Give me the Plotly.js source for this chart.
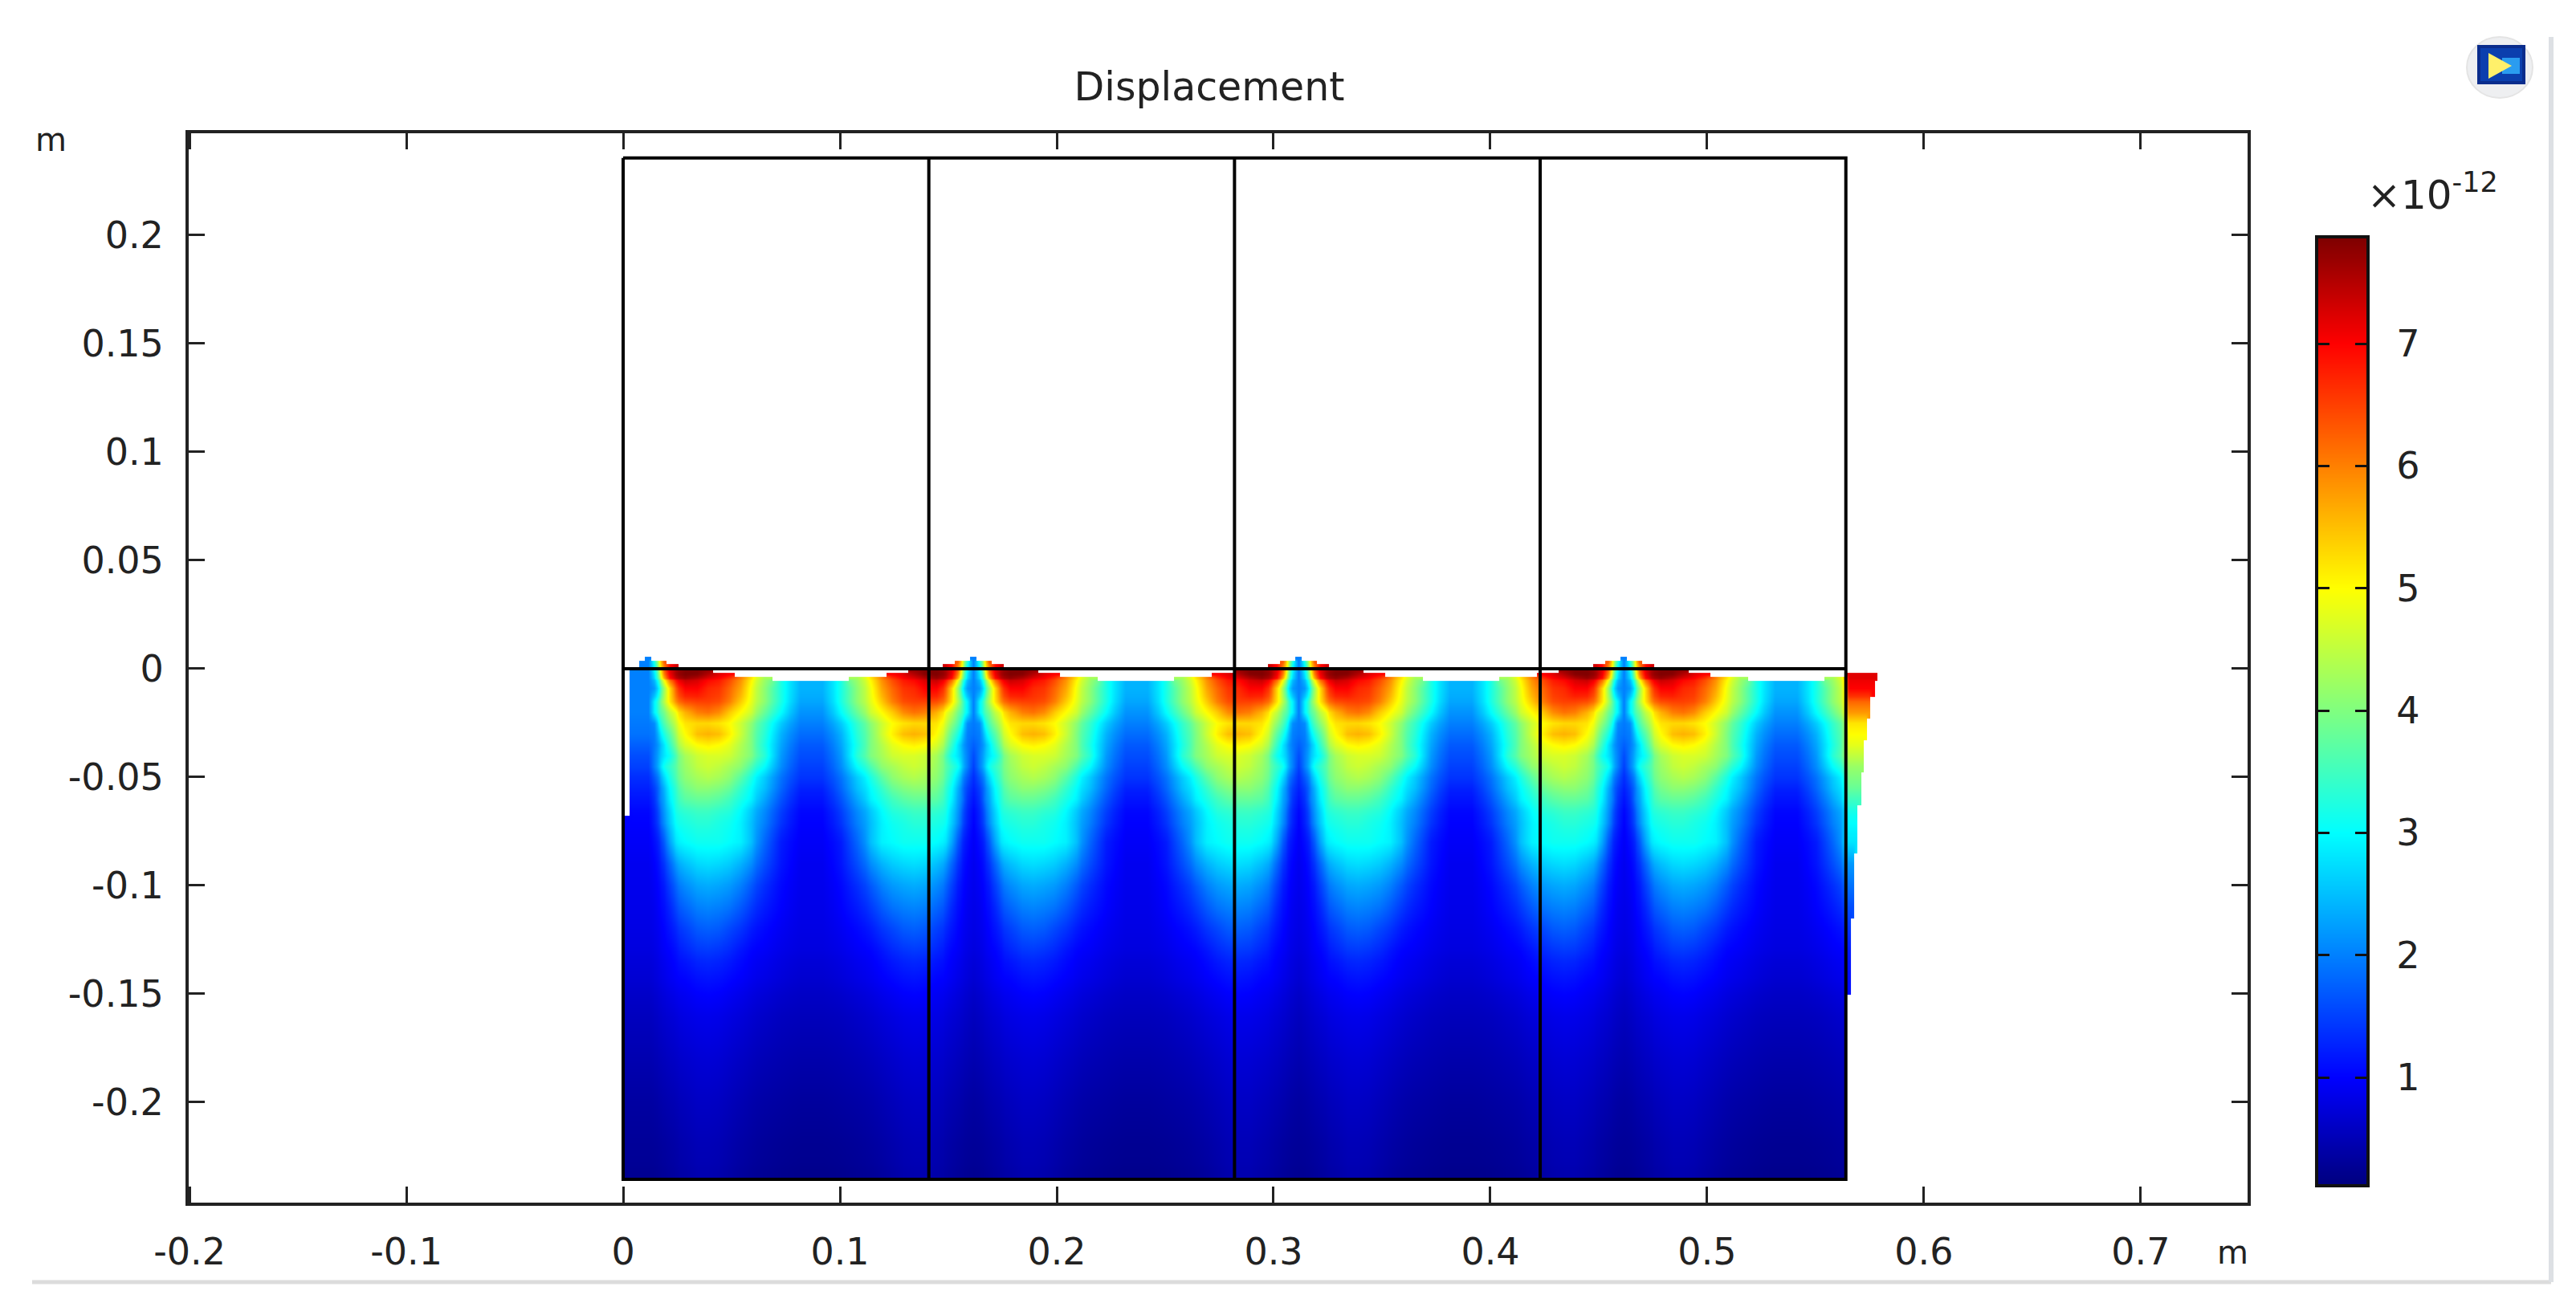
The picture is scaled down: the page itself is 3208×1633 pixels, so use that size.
<!DOCTYPE html>
<html><head><meta charset="utf-8">
<script src="https://cdn.plot.ly/plotly-3.0.1.min.js"></script>
<style>html,body{margin:0;padding:0;background:#fff}</style></head>
<body><div id="chart" style="width:3208px;height:1633px"></div>
<script>
// Displacement field values (×1e-12 m).
// One symmetric half-cell around each surface "spike": columns are distance from the spike.
const halfCellWidths = [.0015,.004,.006,.0086,.0115,.0142,.02,.025,.03,.035,.04,.045,.05,.0575,.065,.075];
const spikeCentres = [.0115,.1615,.3115,.4615,.6115];
const rowEdges = [.0055,.004,.0025,0,-.0016,-.0035,-.0053,-.0125,-.0175,-.0225,-.0275,-.0325,-.0375,-.0425,-.0475,-.0525,-.0575,-.0625,-.0675,-.075,-.085,-.095,-.105,-.115,-.125,-.135,-.15,-.17,-.19,-.21,-.228,-.2356];
const halfRows = [
[2.0],
[2.0,3.2,4.8,6.3],
[2.0,3.0,4.7,6.0,6.9,7.3],
[2.0,2.9,4.4,6.2,7.2,7.6,7.85,7.85,7.7],
[2.0,2.8,4.2,6.0,7.1,7.6,7.85,7.8,7.5,7.2,7.0],
[2.0,2.7,4.0,5.6,6.9,7.4,7.7,7.5,7.2,7.0,6.6,6.0,5.2,4.3],
[2.0,2.2,3.0,4.2,5.3,6.3,7.0,7.0,6.7,6.6,6.2,5.7,4.9,4.1,3.2,2.4],
[2.0,2.9,3.6,4.4,5.2,5.9,6.4,6.5,6.5,6.4,6.0,5.4,4.8,4.1,3.2,2.3],
[2.0,2.9,3.5,3.9,4.5,4.9,5.6,6.0,6.1,5.9,5.4,5.0,4.6,3.8,3.0,2.15],
[1.95,2.1,3.0,3.6,4.1,4.6,5.2,5.3,5.3,5.2,5.0,4.6,4.1,3.4,2.6,2.0],
[1.9,2.0,2.6,3.2,3.7,4.3,5.0,5.5,5.6,5.5,5.1,4.6,4.0,3.3,2.4,1.85],
[1.75,1.95,2.3,2.8,3.4,4.0,4.7,5.0,5.1,5.0,4.8,4.4,4.0,3.2,2.3,1.7],
[1.6,2.0,2.4,2.8,3.1,3.6,4.3,4.6,4.7,4.7,4.6,4.3,4.0,3.3,2.2,1.6],
[1.5,2.0,2.5,3.1,3.4,3.7,4.2,4.5,4.6,4.5,4.3,4.1,3.6,3.0,2.1,1.5],
[1.35,1.7,2.1,2.7,3.2,3.6,4.1,4.3,4.4,4.3,4.1,3.7,3.2,2.6,1.9,1.4],
[1.25,1.5,1.9,2.4,3.0,3.4,3.9,4.1,4.1,4.0,3.8,3.4,3.0,2.5,1.8,1.25],
[1.15,1.4,1.9,2.3,2.9,3.3,3.7,3.8,3.8,3.7,3.5,3.2,2.9,2.3,1.65,1.15],
[1.05,1.3,1.7,2.2,2.7,3.2,3.4,3.5,3.5,3.4,3.3,3.0,2.6,2.1,1.5,1.05],
[1.0,1.25,1.6,2.1,2.6,3.05,3.2,3.3,3.3,3.2,3.1,2.9,2.5,2.0,1.4,1.0],
[.95,1.1,1.3,1.7,2.3,2.8,3.0,3.1,3.1,3.1,3.0,2.9,2.5,1.8,1.2,.95],
[.9,1.0,1.15,1.4,1.8,2.2,2.5,2.7,2.75,2.7,2.6,2.4,2.1,1.6,1.15,.9],
[.88,.95,1.05,1.2,1.5,1.8,2.1,2.3,2.35,2.3,2.2,2.0,1.7,1.35,1.05,.88],
[.85,.9,1.0,1.1,1.3,1.55,1.8,2.0,2.05,2.0,1.9,1.7,1.45,1.2,1.0,.85],
[.82,.87,.93,1.02,1.15,1.3,1.5,1.7,1.75,1.7,1.55,1.4,1.2,1.05,.92,.82],
[.78,.82,.88,.95,1.02,1.12,1.28,1.42,1.45,1.4,1.3,1.15,1.02,.95,.85,.78],
[.7,.75,.8,.85,.92,.98,1.03,1.12,1.15,1.12,1.05,.98,.9,.83,.75,.68],
[.56,.6,.64,.68,.72,.76,.82,.86,.87,.85,.8,.75,.69,.63,.57,.54],
[.46,.49,.52,.55,.59,.62,.67,.71,.72,.7,.65,.6,.55,.5,.46,.43],
[.36,.38,.41,.44,.47,.5,.55,.6,.6,.58,.53,.48,.43,.39,.36,.33],
[.3,.31,.33,.35,.38,.41,.46,.51,.51,.49,.44,.39,.35,.31,.28,.26],
[.26,.27,.29,.31,.34,.37,.41,.46,.46,.44,.39,.34,.3,.27,.24,.22]
];
// Deformed sliver past the right edge of the domain.
const sliverEdges = [.5663,.568,.5692,.571,.5723,.5739,.5754,.5775,.5784];
const sliverReach = [0,0,0,0,.5784,.5784,.5775,.5754,.5754,.5739,.5739,.5723,.5723,.5723,.571,.571,.571,.5692,.5692,.5692,.568,.568,.568,.5663,.5663,.5663,0,0,0,0,0];
const sliverValue = [0,0,0,0,7.2,7.2,7,6.2,5.8,5.2,5,4.8,4.5,4.2,4,3.8,3.5,3.2,3,2.8,2.2,1.9,1.6,1.4,1.2,1.1,0,0,0,0,0];
// Geometry outline (m)
const outlineX = [0,.564,.564,0,0,null,0,.564,null,.141,.141,null,.282,.282,null,.423,.423];
const outlineY = [.2356,.2356,-.2356,-.2356,.2356,null,0,0,null,.2356,-.2356,null,.2356,-.2356,null,.2356,-.2356];
// Colour bar
const barLevels = [.127,1,2,3,4,5,6,7,7.86];
const barTicks = [1,2,3,4,5,6,7];
const colourStops = [[0,'#00007f'],[.1129,'#0000ff'],[.3715,'#00ffff'],[.6302,'#ffff00'],[.8888,'#ff0000'],[1,'#7f0000']];
// Axis ticks
const xTicks = [-.2,-.1,0,.1,.2,.3,.4,.5,.6,.7];
const xTickLabels = ['-0.2','-0.1','0','0.1','0.2','0.3','0.4','0.5','0.6','0.7'];
const yTicks = [-.2,-.15,-.1,-.05,0,.05,.1,.15,.2];
const yTickLabels = ['-0.2','-0.15','-0.1','-0.05','0','0.05','0.1','0.15','0.2'];

// Build the tiled table from the half-cell rows
const W = 3208, H = 1633;
const px = v => v / W, py = v => 1 - v / H;
const domainEnd = .564;
const cells = [];
spikeCentres.forEach((s, k) => {
  for (let c = 15; c >= 1; c--) cells.push({x0: s - halfCellWidths[c], x1: s - halfCellWidths[c-1], col: c, spike: k, left: true});
  cells.push({x0: s - halfCellWidths[0], x1: s + halfCellWidths[0], col: 0, spike: k, left: false});
  for (let c = 1; c <= 15; c++) cells.push({x0: s + halfCellWidths[c-1], x1: s + halfCellWidths[c], col: c, spike: k, left: false});
});
const kept = cells.filter(c => c.x0 >= -1e-9 && c.x0 < domainEnd - 1e-9);
const xEdges = [kept[0].x0].concat(kept.map(c => Math.min(c.x1, domainEnd)), sliverEdges);
const zTop = halfRows.map((row, r) => {
  const mid = (rowEdges[r] + rowEdges[r+1]) / 2;
  const get = i => (row[i] === undefined ? null : row[i]);
  const main = kept.map(c => {
    if (c.spike === 0 && c.left) {
      if (c.col === 4 && mid > -.068) return null;
      if (c.col >= 2 && mid > 0) return null;
      if (get(c.col) === null) return null;
      return get(0);
    }
    return get(c.col);
  });
  const sliver = sliverEdges.map(e => sliverReach[r] >= e - 1e-9 ? sliverValue[r] : null);
  return main.concat(sliver);
});
const yEdges = rowEdges.slice().reverse();
const zAsc = zTop.slice().reverse();

const heat = {type:'heatmap', x:xEdges, y:yEdges, z:zAsc, coloraxis:'coloraxis', zsmooth:'best', connectgaps:false, hoverinfo:'skip', xaxis:'x', yaxis:'y'};
const outline = {type:'scatter', mode:'lines', x:outlineX, y:outlineY, line:{color:'#000', width:4}, connectgaps:false, hoverinfo:'skip', showlegend:false, xaxis:'x', yaxis:'y'};
const bar = {type:'heatmap', x:[0,1], y:barLevels, z:barLevels.map(v => [v,v]), coloraxis:'coloraxis', zsmooth:'best', hoverinfo:'skip', xaxis:'x2', yaxis:'y2'};

const ink = '#222';
const tickFont = {family:'"DejaVu Sans"', size:46, color:ink};
const layout = {
  width:W, height:H, margin:{l:0,r:0,t:0,b:0}, paper_bgcolor:'#fff', plot_bgcolor:'#fff', showlegend:false,
  title:{text:'Displacement', font:{family:'"DejaVu Sans"', size:49, color:ink}, x:px(1506), xref:'paper', xanchor:'center', y:py(108), yref:'paper', yanchor:'middle'},
  coloraxis:{colorscale:colourStops, cmin:.127, cmax:7.86, showscale:false},
  xaxis:{domain:[px(235),px(2799)], range:[-.2004,.7493], tickmode:'array', tickvals:xTicks, ticktext:xTickLabels, ticks:'inside', ticklen:20, tickwidth:3, tickcolor:ink, linecolor:ink, linewidth:4, mirror:'ticks', showgrid:false, zeroline:false, tickfont:tickFont, ticklabelstandoff:18, anchor:'y'},
  yaxis:{domain:[1-1498/H,1-166/H], range:[-.2463,.247], tickmode:'array', tickvals:yTicks, ticktext:yTickLabels, ticks:'inside', ticklen:20, tickwidth:3, tickcolor:ink, linecolor:ink, linewidth:4, mirror:'ticks', showgrid:false, zeroline:false, tickfont:tickFont, ticklabelstandoff:18, anchor:'x'},
  xaxis2:{domain:[px(2887),px(2947)], range:[0,1], showticklabels:false, ticks:'', linecolor:'#111', linewidth:4, mirror:true, showgrid:false, zeroline:false, anchor:'y2'},
  yaxis2:{domain:[1-1475/H,1-297/H], range:[.127,7.86], side:'right', tickmode:'array', tickvals:barTicks, ticks:'inside', ticklen:14, tickwidth:3, tickcolor:'#111', linecolor:'#111', linewidth:4, mirror:'ticks', showgrid:false, zeroline:false, tickfont:tickFont, ticklabelstandoff:24, anchor:'x2'},
  annotations:[
    {text:'m', xref:'paper', yref:'paper', x:px(63), y:py(174), xanchor:'center', yanchor:'middle', showarrow:false, font:{family:'"DejaVu Sans"', size:40, color:ink}},
    {text:'m', xref:'paper', yref:'paper', x:px(2780), y:py(1560), xanchor:'center', yanchor:'middle', showarrow:false, font:{family:'"DejaVu Sans"', size:40, color:ink}},
    {text:'×10<sup>-12</sup>', xref:'paper', yref:'paper', x:px(2946), y:py(240), xanchor:'left', yanchor:'middle', showarrow:false, font:{family:'"DejaVu Sans"', size:50, color:ink}}
  ],
  shapes:[
    {type:'line', xref:'paper', yref:'paper', x0:px(40), x1:px(3177), y0:py(1597), y1:py(1597), line:{color:'#dcdcdc', width:5}},
    {type:'line', xref:'paper', yref:'paper', x0:px(3177), x1:px(3177), y0:py(46), y1:py(1597), line:{color:'#dde0e4', width:6}},
    {type:'circle', xref:'paper', yref:'paper', x0:px(3072), x1:px(3154), y0:py(46), y1:py(122), fillcolor:'#eeeff1', line:{color:'#e4e4e4', width:2}},
    {type:'rect', xref:'paper', yref:'paper', x0:px(3087), x1:px(3143), y0:py(58), y1:py(103), fillcolor:'#0b3fae', line:{color:'#0a2c8c', width:4}},
    {type:'path', xref:'paper', yref:'paper', path:`M ${px(3116)} ${py(72)} L ${px(3138)} ${py(72)} L ${px(3138)} ${py(92)} L ${px(3116)} ${py(92)} Z`, fillcolor:'#2a9cf0', line:{width:0}},
    {type:'path', xref:'paper', yref:'paper', path:`M ${px(3099)} ${py(66)} L ${px(3128)} ${py(82)} L ${px(3099)} ${py(98)} Z`, fillcolor:'#fff06a', line:{width:0}}
  ]
};
Plotly.newPlot('chart', [heat, outline, bar], layout, {displayModeBar:false, staticPlot:true});
</script></body></html>
